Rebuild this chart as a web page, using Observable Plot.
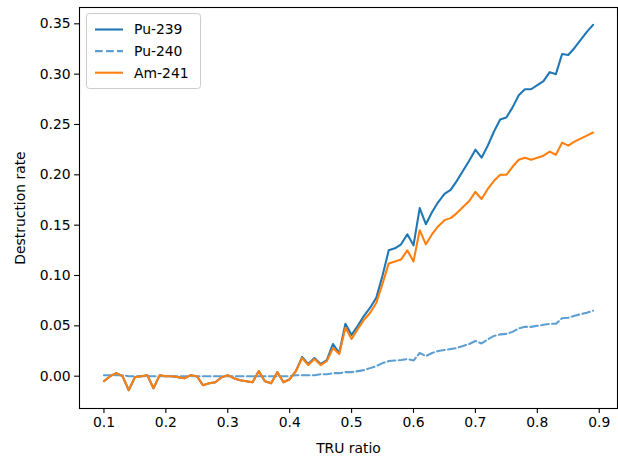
<!DOCTYPE html>
<html>
<head>
<meta charset="utf-8">
<script src="https://cdn.jsdelivr.net/npm/d3@7"></script>
<script src="https://cdn.jsdelivr.net/npm/@observablehq/plot@0.6"></script>
<style>
  html, body { margin: 0; padding: 0; background: #fff; }
</style>
</head>
<body>
<div id="chart"></div>
<script>
const tru = [0.10,0.11,0.12,0.13,0.14,0.15,0.16,0.17,0.18,0.19,
             0.20,0.21,0.22,0.23,0.24,0.25,0.26,0.27,0.28,0.29,
             0.30,0.31,0.32,0.33,0.34,0.35,0.36,0.37,0.38,0.39,
             0.40,0.41,0.42,0.43,0.44,0.45,0.46,0.47,0.48,0.49,
             0.50,0.51,0.52,0.53,0.54,0.55,0.56,0.57,0.58,0.59,
             0.60,0.61,0.62,0.63,0.64,0.65,0.66,0.67,0.68,0.69,
             0.70,0.71,0.72,0.73,0.74,0.75,0.76,0.77,0.78,0.79,
             0.80,0.81,0.82,0.83,0.84,0.85,0.86,0.87,0.88,0.89];

const pu239 = [-0.005,0.000,0.003,0.000,-0.014,-0.001,0.000,0.001,-0.012,0.001,
               0.000,0.000,-0.001,-0.002,0.001,0.000,-0.009,-0.007,-0.006,-0.001,
               0.001,-0.002,-0.004,-0.005,-0.006,0.005,-0.005,-0.007,0.004,-0.006,
               -0.003,0.005,0.019,0.012,0.018,0.012,0.016,0.032,0.023,0.052,
               0.041,0.050,0.060,0.068,0.078,0.100,0.125,0.127,0.131,0.141,
               0.130,0.167,0.151,0.163,0.173,0.181,0.185,0.194,0.204,0.214,
               0.225,0.217,0.229,0.243,0.255,0.257,0.267,0.279,0.285,0.285,
               0.289,0.293,0.302,0.300,0.320,0.319,0.326,0.334,0.342,0.349];

const pu240 = [0.001,0.001,0.001,0.001,0.000,0.000,0.000,0.000,0.000,0.000,
               0.000,0.000,0.000,0.000,0.000,0.000,0.000,0.000,0.000,0.000,
               0.000,0.000,0.000,0.000,0.000,0.000,0.000,0.000,0.000,0.000,
               0.000,0.001,0.001,0.001,0.001,0.002,0.002,0.003,0.003,0.004,
               0.004,0.005,0.006,0.008,0.010,0.013,0.015,0.0155,0.016,0.017,
               0.0155,0.023,0.020,0.023,0.025,0.026,0.027,0.028,0.030,0.032,
               0.035,0.0325,0.0365,0.040,0.0415,0.042,0.044,0.0475,0.049,0.049,
               0.050,0.051,0.052,0.052,0.0575,0.058,0.060,0.0615,0.063,0.065];

const am241 = [-0.005,0.000,0.003,0.000,-0.014,-0.001,0.000,0.001,-0.012,0.001,
               0.000,0.000,-0.001,-0.002,0.001,0.000,-0.009,-0.007,-0.006,-0.001,
               0.001,-0.002,-0.004,-0.005,-0.006,0.005,-0.005,-0.007,0.004,-0.006,
               -0.003,0.005,0.018,0.011,0.017,0.011,0.015,0.028,0.022,0.048,
               0.037,0.047,0.056,0.063,0.073,0.092,0.112,0.114,0.116,0.125,
               0.114,0.145,0.131,0.141,0.149,0.155,0.157,0.162,0.168,0.174,
               0.183,0.176,0.186,0.194,0.200,0.200,0.208,0.215,0.217,0.215,
               0.217,0.219,0.223,0.220,0.232,0.229,0.233,0.236,0.239,0.242];

const seriesNames = ["Pu-239", "Pu-240", "Am-241"];
const seriesColors = ["#1f77b4", "#5d9fd3", "#ff7f0e"];
const xTicks = [0.1,0.2,0.3,0.4,0.5,0.6,0.7,0.8,0.9];
const yTicks = [0.00,0.05,0.10,0.15,0.20,0.25,0.30,0.35];

const rows = tru.map((x, i) => ({x, pu239: pu239[i], pu240: pu240[i], am241: am241[i]}));

const lw = 2.08;
const chart = Plot.plot({
  width: 618,
  height: 461,
  marginLeft: 79,
  marginRight: 1,
  marginTop: 7,
  marginBottom: 53,
  style: {fontFamily: "DejaVu Sans", fontSize: "13.9px", color: "#000", background: "#fff", overflow: "visible"},
  x: {domain: [0.0605, 0.9295]},
  y: {domain: [-0.0321, 0.3662]},
  marks: [
    Plot.axisX({ticks: xTicks, tickFormat: d3.format(".1f"), tickSize: 4.9, tickPadding: 4, strokeWidth: 1.1,
                label: "TRU ratio", labelAnchor: "center", labelArrow: "none", labelOffset: 44}),
    Plot.axisY({ticks: yTicks, tickFormat: d3.format(".2f"), tickSize: 4.9, tickPadding: 4, strokeWidth: 1.1,
                label: "Destruction rate", labelAnchor: "center", labelArrow: "none", labelOffset: 64}),
    Plot.line(rows, {x: "x", y: "pu239", stroke: seriesColors[0], strokeWidth: lw}),
    Plot.line(rows, {x: "x", y: "pu240", stroke: seriesColors[1], strokeWidth: lw, strokeDasharray: "7.7,3.3"}),
    Plot.line(rows, {x: "x", y: "am241", stroke: seriesColors[2], strokeWidth: lw}),
    Plot.frame({stroke: "#000", strokeWidth: 1.1})
  ]
});
document.getElementById("chart").appendChild(chart);

// Legend (matplotlib-style, upper left)
const svg = d3.select(chart);
const lg = svg.append("g").attr("font-family", "DejaVu Sans").attr("font-size", "13.9px").attr("text-anchor", "start");
lg.append("rect").attr("x", 86.5).attr("y", 13.5).attr("width", 114).attr("height", 75)
  .attr("rx", 3).attr("fill", "#fff").attr("fill-opacity", 0.8).attr("stroke", "#cccccc").attr("stroke-width", 1);
seriesNames.forEach((name, i) => {
  const cy = 29.5 + i * 21.6;
  lg.append("line").attr("x1", 95).attr("x2", 123).attr("y1", cy).attr("y2", cy)
    .attr("stroke", seriesColors[i]).attr("stroke-width", lw)
    .attr("stroke-dasharray", i === 1 ? "7.7,3.3" : null);
  lg.append("text").attr("x", 134).attr("y", cy).attr("dy", "0.35em").attr("fill", "#000")
    .attr("text-anchor", "start").text(name);
});
</script>
</body>
</html>
